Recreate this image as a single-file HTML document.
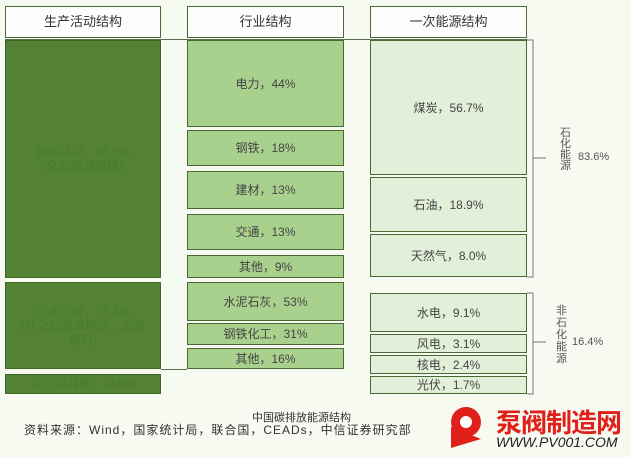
<!DOCTYPE html>
<html><head><meta charset="utf-8"><style>
body{margin:0;width:631px;height:457px;background:#f6faf1;position:relative;overflow:hidden;font-family:"Liberation Sans","Noto Sans CJK SC",sans-serif;}
.b{position:absolute;box-sizing:border-box;border:1.5px solid #4a6a35;display:flex;align-items:center;justify-content:center;text-align:center;font-size:12px;color:#444;line-height:14px}
.h{background:#fdfefb;font-size:13px;color:#333}
.d{background:#548235;color:#4a7a2e;border-color:#3f6626}
.m{background:#a9d18e}
.l{background:#e2efd9}
.ln{position:absolute;background:#5a6e50}
.t{position:absolute;font-size:11px;color:#555}
</style></head><body>
<div class="ln" style="left:5px;top:39px;width:522px;height:1px"></div>
<div class="ln" style="left:161px;top:369px;width:26px;height:1px"></div>

<div class="b h" style="left:5px;top:6px;width:156px;height:32px">生产活动结构</div>
<div class="b h" style="left:187px;top:6px;width:157px;height:32px">行业结构</div>
<div class="b h" style="left:370px;top:6px;width:157px;height:32px">一次能源结构</div>

<div class="b d" style="left:5px;top:40px;width:156px;height:238px">能源活动，85.5%<br>(化石能源燃烧)</div>
<div class="b d" style="left:5px;top:282px;width:156px;height:87px">工业过程，15.4%<br>(非化石能源燃烧，如碳<br>酸钙)</div>
<div class="b d" style="left:5px;top:374px;width:156px;height:20px">农业及其他，-0.8%</div>

<div class="b m" style="left:187px;top:40px;width:157px;height:87px">电力，44%</div>
<div class="b m" style="left:187px;top:130px;width:157px;height:36px">钢铁，18%</div>
<div class="b m" style="left:187px;top:171px;width:157px;height:38px">建材，13%</div>
<div class="b m" style="left:187px;top:214px;width:157px;height:36px">交通，13%</div>
<div class="b m" style="left:187px;top:255px;width:157px;height:23px">其他，9%</div>
<div class="b m" style="left:187px;top:282px;width:157px;height:39px">水泥石灰，53%</div>
<div class="b m" style="left:187px;top:323px;width:157px;height:22px">钢铁化工，31%</div>
<div class="b m" style="left:187px;top:348px;width:157px;height:21px">其他，16%</div>

<div class="b l" style="left:370px;top:40px;width:157px;height:135px">煤炭，56.7%</div>
<div class="b l" style="left:370px;top:177px;width:157px;height:55px">石油，18.9%</div>
<div class="b l" style="left:370px;top:234px;width:157px;height:43px">天然气，8.0%</div>
<div class="b l" style="left:370px;top:293px;width:157px;height:39px">水电，9.1%</div>
<div class="b l" style="left:370px;top:334px;width:157px;height:19px">风电，3.1%</div>
<div class="b l" style="left:370px;top:355px;width:157px;height:19px">核电，2.4%</div>
<div class="b l" style="left:370px;top:376px;width:157px;height:18px">光伏，1.7%</div>

<svg style="position:absolute;left:0;top:0" width="631" height="457">
<path d="M527 40 H533 V277 H527 M533 158 H546" fill="none" stroke="#777" stroke-width="1"/>
<path d="M527 293 H533 V394 H527 M533 342 H546" fill="none" stroke="#777" stroke-width="1"/>
</svg>
<div class="t" style="left:560px;top:128px;width:12px;line-height:11px;font-size:11px">石化能源</div>
<div class="t" style="left:578px;top:151px">83.6%</div>
<div class="t" style="left:556px;top:305px;width:12px;line-height:12px">非石化能源</div>
<div class="t" style="left:572px;top:336px">16.4%</div>

<div class="t" style="left:252px;top:409px;font-size:11px;color:#333">中国碳排放能源结构</div>
<div class="t" style="left:24px;top:421px;font-size:12px;color:#333;letter-spacing:1px">资料来源：Wind，国家统计局，联合国，CEADs，中信证券研究部</div>

<svg style="position:absolute;left:447px;top:405px" width="40" height="44"><circle cx="19" cy="17" r="15" fill="#e0201a"/><circle cx="19" cy="17" r="6" fill="#fff"/><path d="M4 22 L4 43 L34 34 Z" fill="#e0201a"/></svg>
<div class="t" style="left:496px;top:403px;font-size:26px;font-weight:bold;color:#e0201a;letter-spacing:-1px">泵阀制造网</div>
<div class="t" style="left:496px;top:434px;font-size:14px;font-style:italic;color:#222">WWW.PV001.COM</div>
</body></html>
